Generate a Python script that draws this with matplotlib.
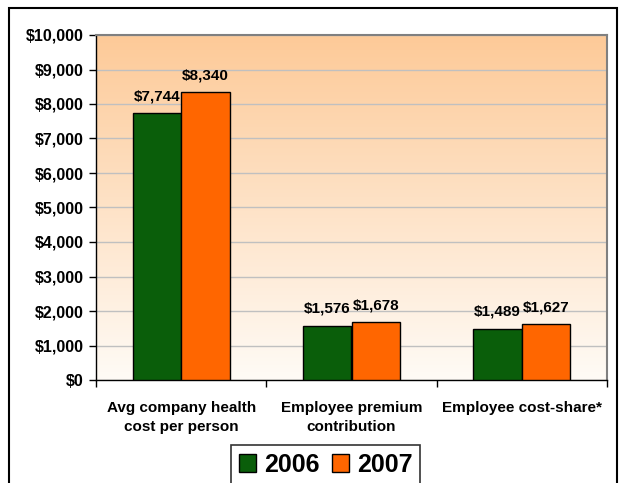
import numpy as np
import matplotlib.pyplot as plt
from matplotlib.patches import Rectangle
from matplotlib.ticker import FuncFormatter, FixedLocator

plt.rcParams['font.family'] = ['Liberation Sans', 'DejaVu Sans']
plt.rcParams['font.weight'] = 'bold'

categories = ['Avg company health\ncost per person', 'Employee premium\ncontribution', 'Employee cost-share*']
vals_2006 = [7744, 1576, 1489]
vals_2007 = [8340, 1678, 1627]
years = ['2006', '2007']

fig = plt.figure(figsize=(6.19, 4.83), dpi=100)
ax = fig.add_axes([96 / 619, 1 - 380 / 483, (607 - 96) / 619, (380 - 35) / 483])

# peach-to-white gradient behind the bars
grad = np.linspace(0, 1, 256).reshape(-1, 1)
top = np.array([253, 202, 152]) / 255
bot = np.array([255, 251, 246]) / 255
rgb = top[None, None, :] * (1 - grad[:, :, None]) + bot[None, None, :] * grad[:, :, None]
ax.imshow(rgb, extent=[-0.5, 2.5, 0, 10000], aspect='auto', origin='upper', zorder=0)

x = np.arange(len(categories))
w = 0.285
b1 = ax.bar(x - w / 2, vals_2006, w, color='#0A5E0A', edgecolor='black', linewidth=1, zorder=3, label=years[0])
b2 = ax.bar(x + w / 2, vals_2007, w, color='#FF6600', edgecolor='black', linewidth=1, zorder=3, label=years[1])

for bars, vals in ((b1, vals_2006), (b2, vals_2007)):
    for r, v in zip(bars, vals):
        ax.text(r.get_x() + r.get_width() / 2, v + 280, f'${v:,}', ha='center', va='bottom',
                fontsize=11, fontweight='bold', zorder=4)

ax.set_xlim(-0.5, 2.5)
ax.set_ylim(0, 10000)
ax.set_yticks(np.arange(0, 10001, 1000))
ax.yaxis.set_major_formatter(FuncFormatter(lambda v, p: f'${int(v):,}'))
ax.grid(axis='y', color='#C0C0C0', linewidth=1, zorder=1)
ax.set_axisbelow(True)

ax.set_xticks(x)
ax.set_xticklabels(categories, fontsize=11, fontweight='bold', linespacing=1.5)
ax.tick_params(axis='x', length=0, pad=15)
ax.xaxis.set_minor_locator(FixedLocator([-0.5, 0.5, 1.5, 2.5]))
ax.tick_params(axis='x', which='minor', length=5, width=1, direction='out')
ax.tick_params(axis='y', length=5, width=1, direction='out', labelsize=11.5, pad=4)
for lbl in ax.get_yticklabels():
    lbl.set_fontweight('bold')

for s in ('top', 'right'):
    ax.spines[s].set_color('#808080')
    ax.spines[s].set_linewidth(1.5)
for s in ('left', 'bottom'):
    ax.spines[s].set_color('black')
    ax.spines[s].set_linewidth(1)

leg = fig.legend(handles=[b1, b2], labels=years, loc='lower center', bbox_to_anchor=(0.526, -0.018),
                 ncol=2, frameon=True, fancybox=False, edgecolor='black',
                 prop={'size': 18, 'weight': 'bold'}, handlelength=0.7, handleheight=0.7,
                 handletextpad=0.3, columnspacing=0.5, borderpad=0.3, borderaxespad=0.3)
leg.get_frame().set_linewidth(1.2)

# outer chart frame
fig.patches.append(Rectangle((9 / 619, -0.01), (617 - 9) / 619, 1 - 8 / 483 + 0.01,
                             transform=fig.transFigure, fill=False, edgecolor='black', linewidth=1.5))

fig.savefig('out.png', dpi=100)
